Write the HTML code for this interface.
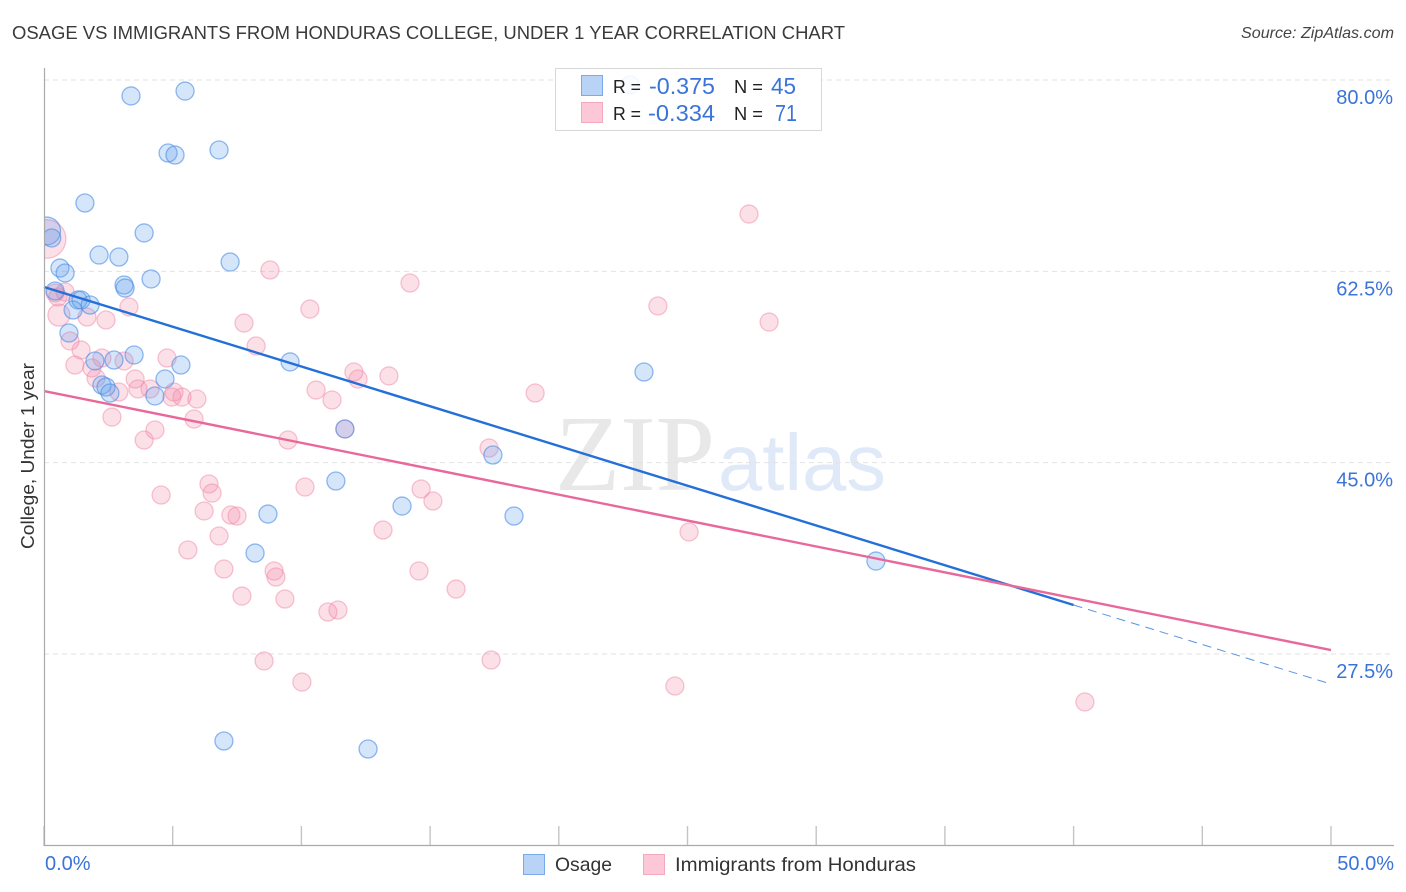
<!DOCTYPE html>
<html lang="en">
<head>
<meta charset="utf-8">
<title>Osage vs Immigrants from Honduras College, Under 1 Year Correlation Chart</title>
<style>
html,body{margin:0;padding:0;background:#fff;width:1406px;height:892px;overflow:hidden}
svg{display:block;font-family:"Liberation Sans",sans-serif}
</style>
</head>
<body>
<svg id="chart" width="1406" height="892" viewBox="0 0 1406 892" xmlns="http://www.w3.org/2000/svg">
  <defs>
    <clipPath id="plot-clip"><rect x="45" y="60" width="1355" height="786"></rect></clipPath>
  </defs>
  <text x="12" y="39" font-size="18.5" fill="#3a3a3a" textLength="833" lengthAdjust="spacingAndGlyphs">OSAGE VS IMMIGRANTS FROM HONDURAS COLLEGE, UNDER 1 YEAR CORRELATION CHART</text>
  <text x="1394" y="38" font-size="16" font-style="italic" fill="#444" text-anchor="end" textLength="153" lengthAdjust="spacingAndGlyphs">Source: ZipAtlas.com</text>
  <g>
    <text x="555" y="490" font-family="'Liberation Serif',serif" font-size="108" fill="#e8e8e8" textLength="160" lengthAdjust="spacingAndGlyphs">ZIP</text>
    <text x="718" y="490" font-family="'Liberation Sans',sans-serif" font-size="80" fill="#dfe9f8" textLength="168" lengthAdjust="spacingAndGlyphs">atlas</text>
  </g>
  <g id="grid"></g>
  <g id="points" clip-path="url(#plot-clip)"></g>
  <g id="trends"></g>
  <g id="axes"></g>
  <text transform="translate(34,456) rotate(-90)" font-size="18" fill="#333" text-anchor="middle" textLength="186" lengthAdjust="spacingAndGlyphs">College, Under 1 year</text>

  <g>
    <rect x="555.5" y="68.5" width="266" height="62" fill="#fff" fill-opacity="0.88" stroke="#d8d8d8" stroke-width="1"></rect>
    <rect x="581.5" y="75.5" width="21" height="20" fill="#b9d3f6" stroke="#7aaae8"></rect>
    <rect x="581.5" y="102.5" width="21" height="20" fill="#fcc8d8" stroke="#f4a9c0"></rect>
    <text x="613" y="93" font-size="18.5" fill="#222" textLength="28" lengthAdjust="spacingAndGlyphs">R =</text>
    <text x="649" y="94" font-size="23" fill="#3a74d8" textLength="66" lengthAdjust="spacingAndGlyphs">-0.375</text>
    <text x="734" y="93" font-size="18.5" fill="#222" textLength="29" lengthAdjust="spacingAndGlyphs">N =</text>
    <text x="771" y="94" font-size="23" fill="#3a74d8" textLength="25" lengthAdjust="spacingAndGlyphs">45</text>
    <text x="613" y="120" font-size="18.5" fill="#222" textLength="28" lengthAdjust="spacingAndGlyphs">R =</text>
    <text x="648" y="121" font-size="23" fill="#3a74d8" textLength="67" lengthAdjust="spacingAndGlyphs">-0.334</text>
    <text x="734" y="120" font-size="18.5" fill="#222" textLength="29" lengthAdjust="spacingAndGlyphs">N =</text>
    <text x="775" y="121" font-size="23" fill="#3a74d8" textLength="22" lengthAdjust="spacingAndGlyphs">71</text>
  </g>

  <g>
    <rect x="523.5" y="854.5" width="21" height="20" fill="#b9d3f6" stroke="#7aaae8"></rect>
    <text x="555" y="871" font-size="19.5" fill="#333" textLength="57" lengthAdjust="spacingAndGlyphs">Osage</text>
    <rect x="643.5" y="854.5" width="21" height="20" fill="#fcc8d8" stroke="#f4a9c0"></rect>
    <text x="675" y="871" font-size="19.5" fill="#333" textLength="241" lengthAdjust="spacingAndGlyphs">Immigrants from Honduras</text>
  </g>
</svg>
<script>
const yTickValues = [80, 62.5, 45, 27.5];
const yTickLabels = ["80.0%", "62.5%", "45.0%", "27.5%"];
const xTickValues = [0, 5, 10, 15, 20, 25, 30, 35, 40, 45, 50];
const xEndLabels = ["0.0%", "50.0%"];

const osageX = [3.38,5.48,4.82,5.09,6.80,1.59,3.89,0.1,0.30,2.14,2.91,7.23,0.62,0.82,4.16,3.11,3.15,0.43,1.32,1.44,1.79,1.13,0.97,3.50,1.98,2.72,5.32,9.56,4.70,2.25,2.41,2.56,4.31,23.31,11.69,17.44,11.34,13.91,8.70,18.26,8.20,32.32,6.99,12.59,22.77];
const osageY = [78.54,78.99,73.32,73.14,73.60,68.75,66.01,66.19,65.55,63.99,63.81,63.35,62.80,62.35,61.80,61.25,60.97,60.70,59.88,59.88,59.42,58.96,56.86,54.85,54.30,54.39,53.93,54.21,52.65,52.10,51.92,51.37,51.10,53.29,48.08,45.70,43.32,41.03,40.30,40.12,36.73,36.00,19.54,18.81,79.54];
const osageWeight = [1,1,1,1,1,1,1,2.4,1,1,1,1,1,1,1,1,1,1,1,1,1,1,1,1,1,1,1,1,1,1,1,1,1,1,1,1,1,1,1,1,1,1,1,1,1];

const hondurasX = [0.1,27.39,8.78,14.22,23.85,10.33,7.77,28.17,8.24,12.04,12.20,13.40,10.57,11.19,19.08,9.48,17.29,4.55,6.41,6.53,10.14,14.65,15.11,6.22,7.26,7.50,6.80,5.59,13.17,25.06,6.99,8.94,9.01,14.57,16.01,7.69,9.36,11.03,11.42,8.55,17.37,10.02,24.51,40.44,0.43,0.82,0.54,3.30,0.58,1.67,2.41,1.01,1.44,1.20,2.25,1.86,3.11,2.02,4.78,3.54,3.65,4.12,5.05,4.97,5.36,5.94,2.91,2.64,5.83,4.31,3.89,11.69];
const hondurasY = [65.46,67.74,62.62,61.43,59.33,59.05,57.77,57.86,55.67,53.29,52.65,52.93,51.64,50.73,51.37,47.07,46.34,42.04,43.05,42.22,42.77,42.59,41.49,40.58,40.21,40.12,38.29,37.01,38.84,38.66,35.27,35.09,34.54,35.09,33.44,32.80,32.53,31.34,31.52,26.86,26.95,24.93,24.57,23.11,60.52,60.61,60.15,59.24,58.50,58.32,58.05,56.13,55.30,53.93,54.57,53.66,54.30,52.74,54.57,52.65,51.74,51.74,51.46,51.00,51.00,50.82,51.46,49.17,48.99,47.99,47.07,48.08];
const hondurasWeight = [4.6,1,1,1,1,1,1,1,1,1,1,1,1,1,1,1,1,1,1,1,1,1,1,1,1,1,1,1,1,1,1,1,1,1,1,1,1,1,1,1,1,1,1,1,1,1,1,1,1.5,1,1,1,1,1,1,1,1,1,1,1,1,1,1,1,1,1,1,1,1,1,1,1];

const osageTrendX = [0, 40];
const osageTrendY = [61.07, 31.98];
const osageProjectionX = [40, 50];
const osageProjectionY = [31.98, 24.75];
const hondurasTrendX = [0, 50];
const hondurasTrendY = [51.55, 27.86];

const NS = "http://www.w3.org/2000/svg";
function xS(v) { return 44 + v * 25.74; }
function yS(v) { return 80 + (80 - v) * 10.933; }
function radius(w) { return 9 * Math.sqrt(w); }
function mk(tag, parent, attrs) {
  const el = document.createElementNS(NS, tag);
  for (const k in attrs) el.setAttribute(k, attrs[k]);
  parent.appendChild(el);
  return el;
}

const grid = document.getElementById("grid");
const axes = document.getElementById("axes");
const points = document.getElementById("points");
const trends = document.getElementById("trends");

yTickValues.forEach(function (v, i) {
  const line = mk("line", grid, { x1: 44, x2: 1394, y1: yS(v), y2: yS(v), stroke: "#e2e2e2", "stroke-width": 1, "stroke-dasharray": "5 4" });
  
  
  const label = mk("text", axes, { x: 1393, y: yS(v) + 24, "text-anchor": "end", "font-size": 20, fill: "#3a74d8" });
  
  
  label.textContent = yTickLabels[i];
});

xTickValues.forEach(function (v) {
  const tick = mk("line", axes, { x1: xS(v), x2: xS(v), y1: 826, y2: 846, stroke: "#c4c4c4", "stroke-width": 1.4 });
  
  
});

const yAxis = mk("line", axes, { x1: 44.5, x2: 44.5, y1: 68, y2: 846, stroke: "#aaa", "stroke-width": 1.2 });


const xAxis = mk("line", axes, { x1: 44, x2: 1394, y1: 845.5, y2: 845.5, stroke: "#aaa", "stroke-width": 1.2 });



const xLabelStart = mk("text", axes, { x: 45, y: 870, "font-size": 20, fill: "#3a74d8" });


xLabelStart.textContent = xEndLabels[0];
const xLabelEnd = mk("text", axes, { x: 1394, y: 870, "text-anchor": "end", "font-size": 20, fill: "#3a74d8" });


xLabelEnd.textContent = xEndLabels[1];

hondurasX.forEach(function (v, i) {
  const c = mk("circle", points, { cx: xS(v), cy: yS(hondurasY[i]), r: radius(hondurasWeight[i]), fill: "#f582a5", "fill-opacity": 0.25, stroke: "#f08aa8", "stroke-opacity": 0.5, "stroke-width": 1.3 });
  
  
});
osageX.forEach(function (v, i) {
  const c = mk("circle", points, { cx: xS(v), cy: yS(osageY[i]), r: radius(osageWeight[i]), fill: "#64a0eb", "fill-opacity": 0.27, stroke: "#4a8ce4", "stroke-opacity": 0.6, "stroke-width": 1.3 });
  
  
});

const osageTrend = mk("line", trends, { x1: xS(osageTrendX[0]), y1: yS(osageTrendY[0]), x2: xS(osageTrendX[1]), y2: yS(osageTrendY[1]), stroke: "#2270d8", "stroke-width": 2.4 });


const osageProjection = mk("line", trends, { x1: xS(osageProjectionX[0]), y1: yS(osageProjectionY[0]), x2: xS(osageProjectionX[1]), y2: yS(osageProjectionY[1]), stroke: "#2270d8", "stroke-width": 1, "stroke-opacity": 0.75, "stroke-dasharray": "9 6" });


const hondurasTrend = mk("line", trends, { x1: xS(hondurasTrendX[0]), y1: yS(hondurasTrendY[0]), x2: xS(hondurasTrendX[1]), y2: yS(hondurasTrendY[1]), stroke: "#e9689a", "stroke-width": 2.4 });


</script>
</body>
</html>
